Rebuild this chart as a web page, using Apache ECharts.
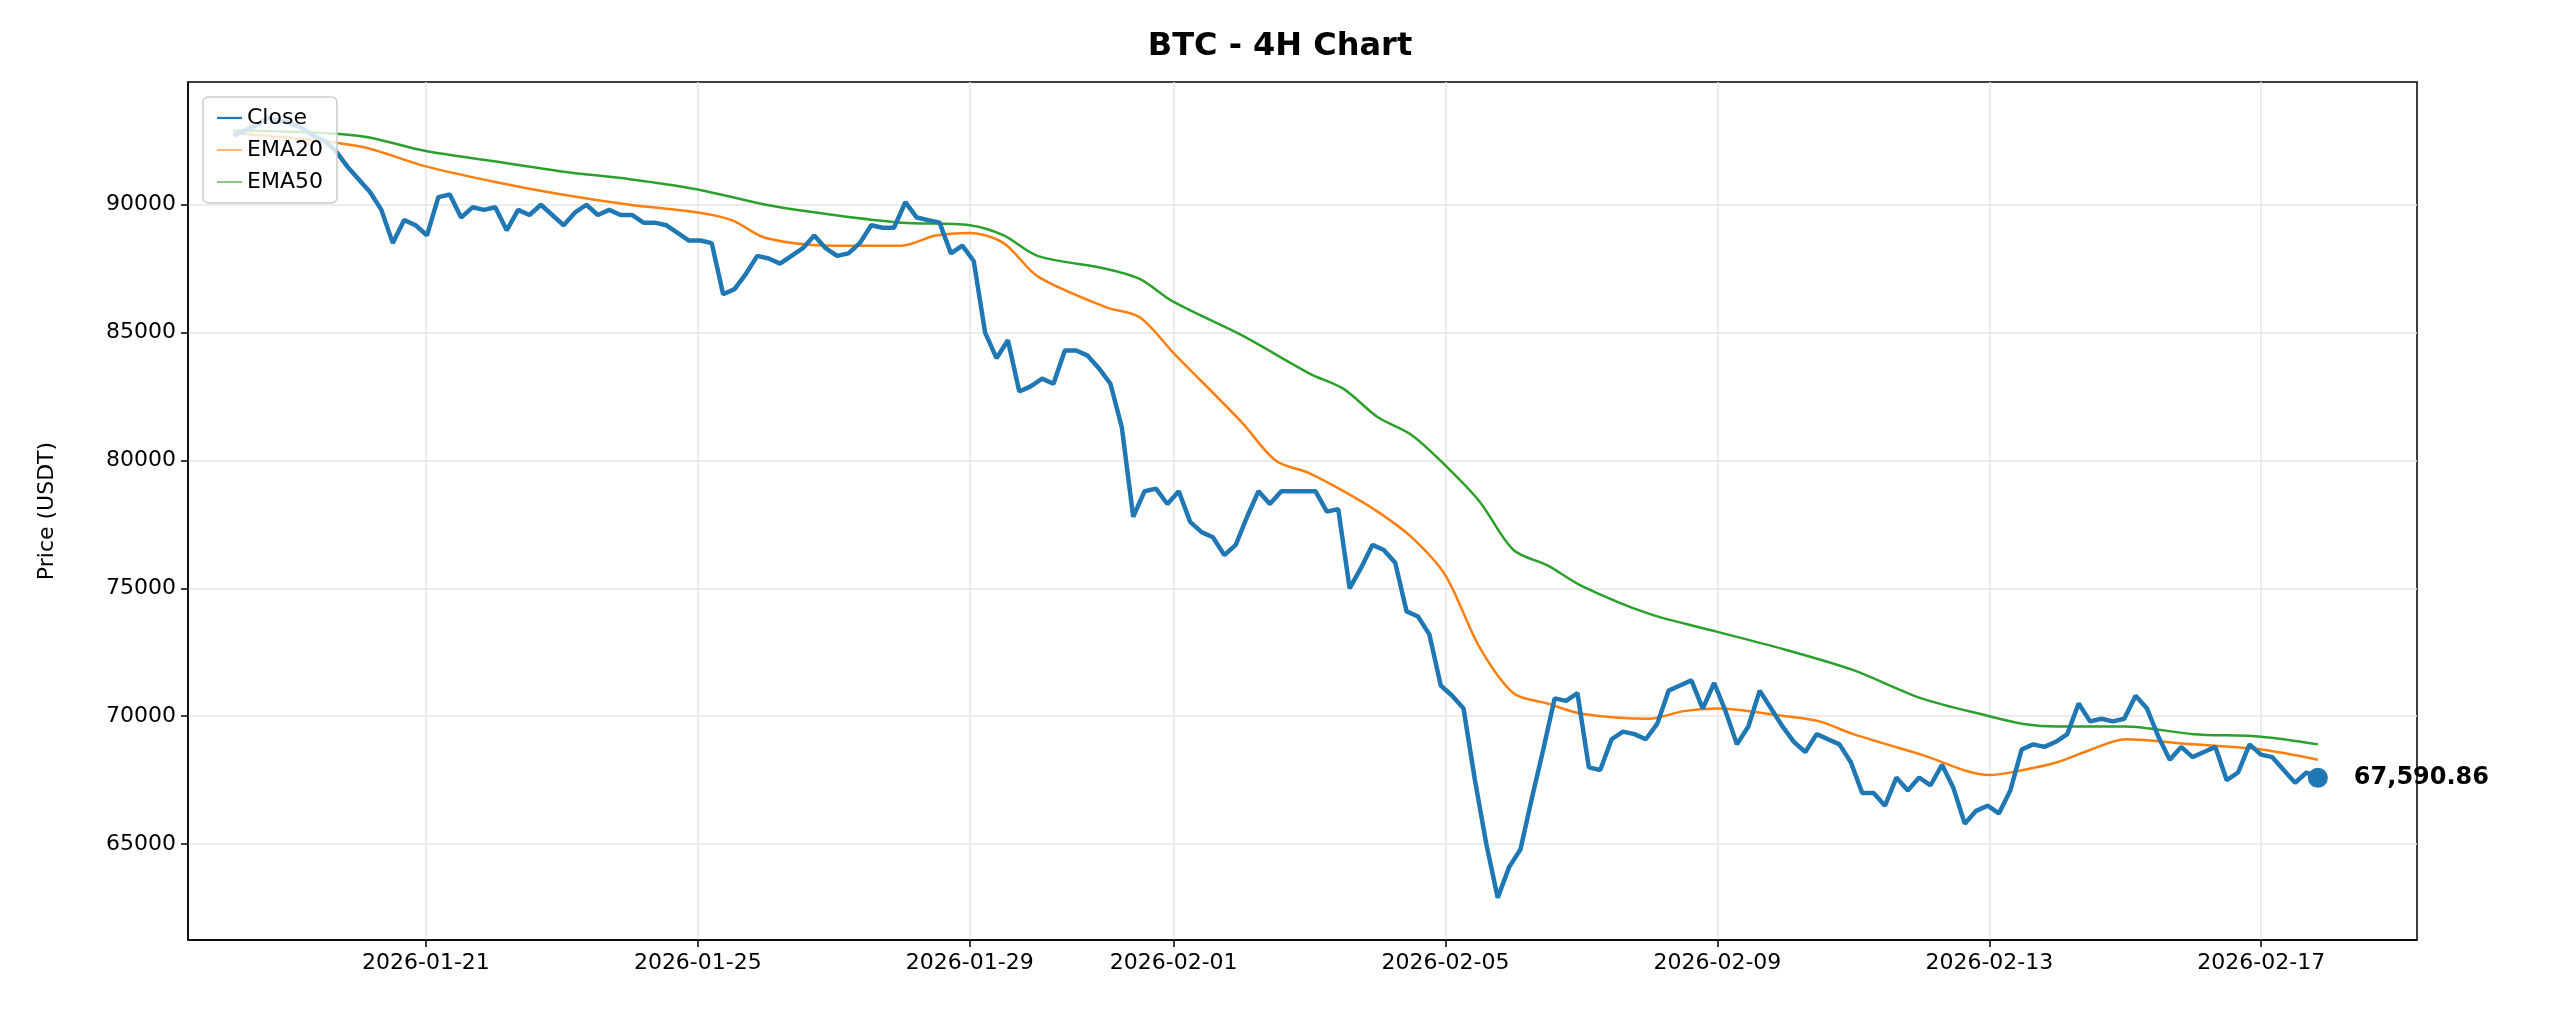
<!DOCTYPE html>
<html><head><meta charset="utf-8">
<script src="https://cdn.jsdelivr.net/npm/echarts@6/dist/echarts.min.js"></script>
<style>html,body{margin:0;padding:0;background:#fff}#c{width:2560px;height:1024px}</style>
</head><body><div id="c"></div>
<script>
const closeStart = '2026-01-18T04:00:00Z';
const closeEnd = '2026-02-17T20:00:00Z';
const closeValues = [92700,92900,93100,93400,93300,93200,93000,92700,92500,92100,91500,91000,90500,89800,88500,89400,89200,88800,90300,90400,89500,89900,89800,89900,89000,89800,89600,90000,89600,89200,89700,90000,89600,89800,89600,89600,89300,89300,89200,88900,88600,88600,88500,86500,86700,87300,88000,87900,87700,88000,88300,88800,88300,88000,88100,88500,89200,89100,89100,90100,89500,89400,89300,88100,88400,87800,85000,84000,84700,82700,82900,83200,83000,84300,84300,84100,83600,83000,81300,77800,78800,78900,78300,78800,77600,77200,77000,76300,76700,77800,78800,78300,78800,78800,78800,78800,78000,78100,75000,75800,76700,76500,76000,74100,73900,73200,71200,70800,70300,67500,65000,62900,64100,64800,66800,68700,70700,70600,70900,68000,67900,69100,69400,69300,69100,69700,71000,71200,71400,70300,71300,70200,68900,69600,71000,70300,69600,69000,68600,69300,69100,68900,68200,67000,67000,66500,67600,67100,67600,67300,68100,67200,65800,66300,66500,66200,67100,68700,68900,68800,69000,69300,70500,69800,69900,69800,69900,70800,70300,69200,68300,68800,68400,68600,68800,67500,67800,68900,68500,68400,67900,67400,67800,67590.86];
const ema20Times = ['2026-01-18T04:00','2026-01-20T00:00','2026-01-21T00:00','2026-01-22T00:00','2026-01-23T00:00','2026-01-24T00:00','2026-01-25T00:00','2026-01-25T12:00','2026-01-26T00:00','2026-01-27T00:00','2026-01-28T00:00','2026-01-28T12:00','2026-01-29T00:00','2026-01-29T12:00','2026-01-30T00:00','2026-01-31T00:00','2026-01-31T12:00','2026-02-01T00:00','2026-02-02T00:00','2026-02-02T12:00','2026-02-03T00:00','2026-02-03T12:00','2026-02-04T00:00','2026-02-04T12:00','2026-02-05T00:00','2026-02-05T12:00','2026-02-06T00:00','2026-02-06T12:00','2026-02-07T00:00','2026-02-08T00:00','2026-02-08T12:00','2026-02-09T00:00','2026-02-10T00:00','2026-02-10T12:00','2026-02-11T00:00','2026-02-12T00:00','2026-02-13T00:00','2026-02-13T12:00','2026-02-14T00:00','2026-02-14T12:00','2026-02-15T00:00','2026-02-16T00:00','2026-02-17T00:00','2026-02-17T20:00'];
const ema20Values = [92800,92300,91500,90900,90400,90000,89700,89400,88700,88400,88400,88800,88900,88500,87200,86000,85600,84200,81500,80000,79500,78800,78000,77000,75500,72700,70900,70500,70100,69900,70200,70300,70000,69800,69300,68500,67700,67900,68200,68700,69100,68900,68700,68300];
const ema50Times = ['2026-01-18T04:00','2026-01-20T00:00','2026-01-21T00:00','2026-01-22T00:00','2026-01-23T00:00','2026-01-24T00:00','2026-01-25T00:00','2026-01-26T00:00','2026-01-27T00:00','2026-01-28T00:00','2026-01-29T00:00','2026-01-29T12:00','2026-01-30T00:00','2026-01-31T00:00','2026-01-31T12:00','2026-02-01T00:00','2026-02-02T00:00','2026-02-03T00:00','2026-02-03T12:00','2026-02-04T00:00','2026-02-04T12:00','2026-02-05T00:00','2026-02-05T12:00','2026-02-06T00:00','2026-02-06T12:00','2026-02-07T00:00','2026-02-08T00:00','2026-02-09T00:00','2026-02-10T00:00','2026-02-11T00:00','2026-02-12T00:00','2026-02-13T00:00','2026-02-13T12:00','2026-02-14T00:00','2026-02-15T00:00','2026-02-16T00:00','2026-02-17T00:00','2026-02-17T20:00'];
const ema50Values = [92900,92700,92100,91700,91300,91000,90600,90000,89600,89300,89200,88800,88000,87500,87100,86200,84900,83400,82800,81700,81000,79800,78400,76500,75900,75100,74000,73300,72600,71800,70700,70000,69700,69600,69600,69300,69200,68900];
const xTickDates = ['2026-01-21','2026-01-25','2026-01-29','2026-02-01','2026-02-05','2026-02-09','2026-02-13','2026-02-17'];
const yTicks = [65000,70000,75000,80000,85000,90000];

const t = s => Date.parse(s.length <= 10 ? s + 'T00:00:00Z' : (s.endsWith('Z') ? s : s + ':00Z'));
const t0 = t(closeStart), t1 = t(closeEnd);
const closeData = closeValues.map((v,i)=>[t0 + (t1-t0)*i/(closeValues.length-1), v]);
const ema20Data = ema20Times.map((s,i)=>[t(s), ema20Values[i]]);
const ema50Data = ema50Times.map((s,i)=>[t(s), ema50Values[i]]);
const last = closeData[closeData.length-1];
const xTicks = xTickDates.map(t);
const pad = n => String(n).padStart(2,'0');
const fmtDate = v => { const d = new Date(v); return d.getUTCFullYear()+'-'+pad(d.getUTCMonth()+1)+'-'+pad(d.getUTCDate()); };
const F = 'DejaVu Sans';
const lineIcon = w => 'path://M0,0 L56,0 L56,' + w + ' L0,' + w + ' Z';

const chart = echarts.init(document.getElementById('c'));
chart.setOption({
  animation:false,
  title:{text:'BTC - 4H Chart',left:'center',top:26,textStyle:{fontFamily:F,fontSize:32,fontWeight:'bold',color:'#000'}},
  grid:{left:188,right:143,top:82,bottom:84,show:true,borderColor:'#000',borderWidth:1.5,backgroundColor:'transparent'},
  legend:{left:203,top:97,orient:'vertical',backgroundColor:'rgba(255,255,255,0.8)',borderColor:'#ccc',borderWidth:1.5,borderRadius:5,padding:[10,14],itemGap:10,
    textStyle:{fontFamily:F,fontSize:22,color:'#000'},
    data:[{name:'Close',icon:lineIcon(5),itemHeight:5,itemWidth:56},{name:'EMA20',icon:lineIcon(2.5),itemHeight:3,itemWidth:56},{name:'EMA50',icon:lineIcon(2.5),itemHeight:3,itemWidth:56}]},
  xAxis:{type:'value',min:t('2026-01-17T12:00'),max:t('2026-02-19T07:00'),
    axisLine:{lineStyle:{color:'#000',width:1.5}},
    axisTick:{show:true,customValues:xTicks,length:7,lineStyle:{color:'#000',width:1.5}},
    axisLabel:{customValues:xTicks,formatter:fmtDate,fontFamily:F,fontSize:22,color:'#000',margin:12},
    splitLine:{show:true,lineStyle:{color:'#e6e6e6',width:1.5}}},
  yAxis:{type:'value',min:61250,max:94800,name:'Price (USDT)',nameLocation:'middle',nameGap:130,
    nameTextStyle:{fontFamily:F,fontSize:22,color:'#000'},
    axisLine:{show:true,lineStyle:{color:'#000',width:1.5}},
    axisTick:{show:true,customValues:yTicks,length:7,lineStyle:{color:'#000',width:1.5}},
    axisLabel:{customValues:yTicks,formatter:v=>String(v),fontFamily:F,fontSize:22,color:'#000',margin:12},
    splitLine:{show:true,lineStyle:{color:'#e6e6e6',width:1.5}}},
  series:[
    {name:'Close',type:'line',data:closeData,showSymbol:false,lineStyle:{color:'#1f77b4',width:4.5},itemStyle:{color:'#1f77b4'},z:3},
    {name:'EMA20',type:'line',data:ema20Data,showSymbol:false,smooth:0.3,lineStyle:{color:'#ff7f0e',width:2.5},itemStyle:{color:'#ff7f0e'},z:2},
    {name:'EMA50',type:'line',data:ema50Data,showSymbol:false,smooth:0.3,lineStyle:{color:'#2ca02c',width:2.5},itemStyle:{color:'#2ca02c'},z:2},
    {name:'last',type:'scatter',data:[last],symbolSize:20,itemStyle:{color:'#1f77b4',opacity:1},z:4,
     label:{show:true,position:'right',distance:26,formatter:()=>last[1].toLocaleString('en-US',{minimumFractionDigits:2,maximumFractionDigits:2}),fontFamily:F,fontSize:24,fontWeight:'bold',color:'#000'}}
  ]
});
</script></body></html>
